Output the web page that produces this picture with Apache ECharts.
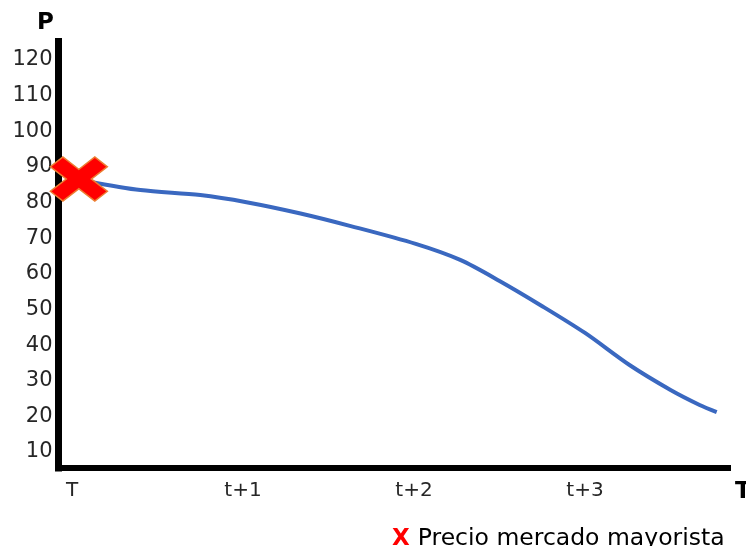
<!DOCTYPE html>
<html>
<head>
<meta charset="utf-8">
<script src="https://cdn.jsdelivr.net/npm/echarts@6/dist/echarts.min.js"></script>
<style>html,body{margin:0;padding:0;background:#fff}#c{width:746px;height:546px}</style>
</head>
<body>
<div id="c"></div>
<script>
// Data
var xTickLabels = ['T', 't+1', 't+2', 't+3'];
var xTickPositions = [0, 1, 2, 3];
var yTickValues = [10, 20, 30, 40, 50, 60, 70, 80, 90, 100, 110, 120];
var priceTime = [0.09, 0.40, 0.75, 1.02, 1.33, 1.63, 2.01, 2.27, 2.50, 2.74, 3.00, 3.26, 3.50, 3.67, 3.77];
var priceValues = [86.0, 83.5, 82.1, 80.1, 77.0, 73.4, 68.4, 63.9, 58.0, 51.2, 43.4, 34.4, 27.4, 23.2, 21.2];
var wholesaleTime = [0.04];
var wholesaleValues = [86.6];
var legendLabel = 'Precio mercado mayorista';

var lineData = priceTime.map(function (t, i) { return [t, priceValues[i]]; });
var crossData = wholesaleTime.map(function (t, i) { return [t, wholesaleValues[i]]; });

var chart = echarts.init(document.getElementById('c'), null, { renderer: 'canvas' });
var font = '"DejaVu Sans", Verdana, sans-serif';
chart.setOption({
  animation: false,
  backgroundColor: '#ffffff',
  grid: { left: 58.5, right: 18, top: 41.5, bottom: 78, containLabel: false },
  xAxis: {
    type: 'value',
    min: -0.079, max: 3.836,
    axisLine: { show: true, onZero: false, lineStyle: { color: '#000', width: 6, cap: 'square' } },
    axisTick: { show: false },
    splitLine: { show: false },
    axisLabel: {
      customValues: xTickPositions,
      formatter: function (v) { var i = xTickPositions.indexOf(v); return i >= 0 ? xTickLabels[i] : ''; },
      color: '#262626', fontFamily: font, fontSize: 20, margin: 13
    }
  },
  yAxis: {
    type: 'value',
    min: 5.5, max: 125.2,
    axisLine: { show: true, onZero: false, lineStyle: { color: '#000', width: 7, cap: 'square' } },
    axisTick: { show: false },
    splitLine: { show: false },
    axisLabel: {
      customValues: yTickValues,
      color: '#262626', fontFamily: font, fontSize: 21, margin: 6
    }
  },
  graphic: [
    { type: 'text', left: 37, top: 12, style: { text: 'P', font: 'bold 23px ' + font, fill: '#000' } },
    { type: 'text', left: 735, top: 481, style: { text: 'T', font: 'bold 23px ' + font, fill: '#000' } },
    { type: 'text', left: 392, top: 527, style: {
        text: '{x|X}{t|' + legendLabel + '}',
        rich: {
          x: { fill: '#ff0000', font: 'bold 23px ' + font, padding: [0, 8, 0, 0] },
          t: { fill: '#000', font: '23.5px ' + font }
        }
    } }
  ],
  series: [
    {
      type: 'line', data: lineData, smooth: 0.3, showSymbol: false,
      lineStyle: { color: '#3a68c0', width: 4 }, z: 2
    },
    {
      type: 'scatter', data: crossData,
      symbol: 'path://M0,22 L22,0 L50,28 L78,0 L100,22 L72,50 L100,78 L78,100 L50,72 L22,100 L0,78 L28,50 Z',
      symbolSize: [57, 44],
      itemStyle: { color: '#ff0000', borderColor: '#ed7d31', borderWidth: 1.5, opacity: 1 }, z: 3
    }
  ]
});
</script>
</body>
</html>
